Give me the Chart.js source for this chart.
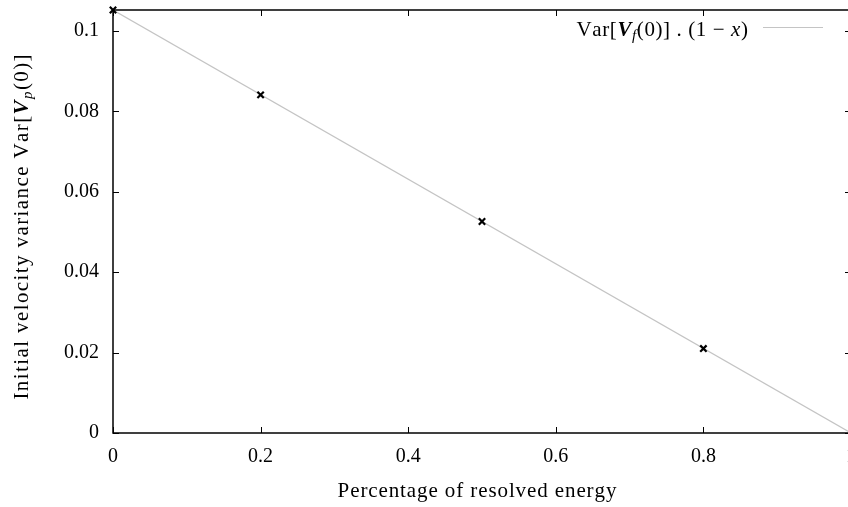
<!DOCTYPE html>
<html>
<head>
<meta charset="utf-8">
<script src="https://cdn.jsdelivr.net/npm/chart.js@4.4.1/dist/chart.umd.min.js"></script>
<style>
  body { margin: 0; overflow: hidden; background: #fff; }
  #wrap { width: 860px; height: 507px; position: relative; }
</style>
</head>
<body>
<div id="wrap"><canvas id="varChart"></canvas></div>
<script>
// datos
const xTicks = [0, 0.2, 0.4, 0.6, 0.8, 1];
const yTicks = [0, 0.02, 0.04, 0.06, 0.08, 0.1];
const ptsX = [0, 0.2, 0.5, 0.8];
const ptsY = [0.1052, 0.0841, 0.0526, 0.0210];
const fitX = [0, 1];
const fitY = [0.1052, 0];

const serif = '"Liberation Serif", "DejaVu Serif", serif';
const tickSize = 20;
const titleSize = 21;

// dibuja trozos de texto (letra por letra, con espaciado extra)
function drawRuns(ctx, runs, x, y, ls, measureOnly) {
    let w = 0;
    runs.forEach(function (r) {
        ctx.font = r.font;
        for (const ch of r.t) {
            if (!measureOnly) ctx.fillText(ch, x + w, y + (r.dy || 0));
            w += ctx.measureText(ch).width + ls;
        }
    });
    return w - ls;
}

const roman = titleSize + 'px ' + serif;
const italic = 'italic ' + titleSize + 'px ' + serif;
const boldIt = 'italic bold ' + titleSize + 'px ' + serif;
const subIt = 'italic 15px ' + serif;

const legendRuns = [
    {t: 'Var[', font: roman},
    {t: 'V', font: boldIt},
    {t: 'f', font: subIt, dy: 4},
    {t: '(0)] . (1 \u2212 ', font: roman},
    {t: 'x', font: italic},
    {t: ')', font: roman}
];
const yTitleRuns = [
    {t: 'Initial velocity variance Var[', font: roman},
    {t: 'V', font: boldIt},
    {t: 'p', font: subIt, dy: 4},
    {t: '(0)]', font: roman}
];
const xTitleRuns = [
    {t: 'Percentage of resolved energy', font: roman}
];

const framePlugin = {
    id: 'frame',
    afterDraw: function (chart) {
        const ctx = chart.ctx;
        const a = chart.chartArea;
        const sx = chart.scales.x, sy = chart.scales.y;
        ctx.save();
        ctx.strokeStyle = '#000';
        ctx.lineWidth = 1.5;
        ctx.strokeRect(a.left, a.top, a.right - a.left, a.bottom - a.top);
        ctx.lineWidth = 1;
        ctx.beginPath();
        xTicks.forEach(function (v) {
            const px = Math.round(sx.getPixelForValue(v)) + 0.5;
            ctx.moveTo(px, a.bottom); ctx.lineTo(px, a.bottom - 6);
            ctx.moveTo(px, a.top); ctx.lineTo(px, a.top + 6);
        });
        yTicks.forEach(function (v) {
            const py = Math.round(sy.getPixelForValue(v)) + 0.5;
            ctx.moveTo(a.left, py); ctx.lineTo(a.left + 6, py);
            ctx.moveTo(a.right, py); ctx.lineTo(a.right - 6, py);
        });
        ctx.stroke();

        ctx.fillStyle = '#000';
        ctx.textBaseline = 'alphabetic';
        ctx.textAlign = 'left';

        // leyenda dentro del area, alineada a la derecha
        const lw = drawRuns(ctx, legendRuns, 0, 0, 0.6, true);
        drawRuns(ctx, legendRuns, 748 - lw, 36, 0.6);
        ctx.strokeStyle = '#c4c4c4';
        ctx.lineWidth = 1.2;
        ctx.beginPath();
        ctx.moveTo(763, 27.5); ctx.lineTo(823, 27.5);
        ctx.stroke();

        // titulo eje x
        const xw = drawRuns(ctx, xTitleRuns, 0, 0, 0.9, true);
        drawRuns(ctx, xTitleRuns, 477 - xw / 2, 497, 0.9);

        // titulo eje y
        const yw = drawRuns(ctx, yTitleRuns, 0, 0, 1.4, true);
        ctx.translate(28, 227);
        ctx.rotate(-Math.PI / 2);
        drawRuns(ctx, yTitleRuns, -yw / 2, 0, 1.4);
        ctx.restore();
    }
};

const ctxVar = document.getElementById('varChart').getContext('2d');
const varChart = new Chart(ctxVar, {
    type: 'scatter',
    data: {
        datasets: [{
            data: ptsX.map(function (x, i) { return {x: x, y: ptsY[i]}; }),
            pointStyle: 'crossRot',
            pointRadius: 4.5,
            pointBorderWidth: 2.2,
            borderColor: '#000',
            backgroundColor: '#000',
            showLine: false,
            clip: false
        }, {
            data: fitX.map(function (x, i) { return {x: x, y: fitY[i]}; }),
            showLine: true,
            borderColor: '#c4c4c4',
            borderWidth: 1.2,
            pointRadius: 0
        }]
    },
    options: {
        responsive: true,
        maintainAspectRatio: false,
        animation: false,
        layout: {padding: {top: 10, right: 8, left: 0, bottom: 0}},
        plugins: {legend: {display: false}, tooltip: {enabled: false}},
        scales: {
            x: {
                type: 'linear',
                min: 0,
                max: 1,
                afterBuildTicks: function (s) { s.ticks = xTicks.map(function (v) { return {value: v}; }); },
                afterFit: function (s) { s.height = 74; s.paddingLeft = 0; },
                grid: {display: false},
                border: {display: false},
                ticks: {
                    color: '#000',
                    padding: 4,
                    maxRotation: 0,
                    font: {family: serif, size: tickSize},
                    callback: function (v) { return String(v); }
                }
            },
            y: {
                min: 0,
                max: 0.1052,
                afterBuildTicks: function (s) { s.ticks = yTicks.map(function (v) { return {value: v}; }); },
                afterFit: function (s) { s.width = 113; s.paddingTop = 0; s.paddingBottom = 0; },
                grid: {display: false},
                border: {display: false},
                ticks: {
                    color: '#000',
                    padding: 6,
                    font: {family: serif, size: tickSize},
                    callback: function (v) { return String(v); }
                }
            }
        }
    },
    plugins: [framePlugin]
});
</script>
</body>
</html>
